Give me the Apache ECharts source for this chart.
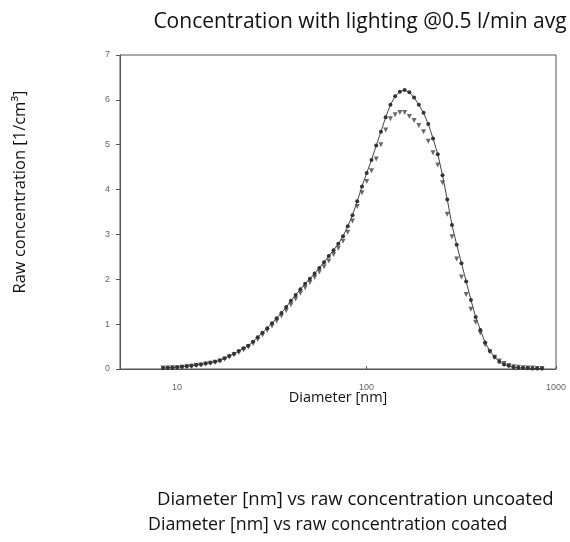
<!DOCTYPE html>
<html>
<head>
<meta charset="utf-8">
<script src="https://cdn.jsdelivr.net/npm/echarts@6/dist/echarts.min.js"></script>
<style>
  html, body { margin: 0; padding: 0; background: #fff; }
  #main { width: 570px; height: 542px; }
</style>
</head>
<body>
<div id="main"></div>
<script>
// diameters [nm], log spaced channels
var diameters = [
  8.43, 8.93, 9.46, 10.02, 10.62, 11.25, 11.91, 12.62, 13.37, 14.16,
  15.00, 15.89, 16.83, 17.82, 18.88, 20.00, 21.18, 22.44, 23.77, 25.18,
  26.67, 28.25, 29.92, 31.70, 33.57, 35.56, 37.67, 39.90, 42.27, 44.77,
  47.42, 50.23, 53.21, 56.36, 59.70, 63.24, 66.99, 70.96, 75.16, 79.62,
  84.33, 89.33, 94.62, 100.2, 106.2, 112.5, 119.1, 126.2, 133.7, 141.6,
  150.0, 158.9, 168.3, 178.2, 188.8, 200.0, 211.8, 224.4, 237.7, 251.8,
  266.7, 282.5, 299.2, 317.0, 335.7, 355.6, 376.7, 399.0, 422.7, 447.7,
  474.2, 502.3, 532.1, 563.6, 597.0, 632.4, 669.9, 709.6, 751.6, 796.2,
  843.3
];

var uncoated = [
  0.02, 0.03, 0.03, 0.04, 0.05, 0.06, 0.07, 0.09, 0.10, 0.12,
  0.14, 0.16, 0.19, 0.24, 0.29, 0.34, 0.40, 0.46, 0.52, 0.61,
  0.71, 0.81, 0.91, 1.02, 1.13, 1.25, 1.38, 1.52, 1.65, 1.78,
  1.90, 2.01, 2.13, 2.25, 2.38, 2.52, 2.65, 2.79, 2.96, 3.18,
  3.43, 3.74, 4.07, 4.37, 4.66, 4.98, 5.29, 5.61, 5.89, 6.08,
  6.18, 6.22, 6.17, 6.05, 5.89, 5.71, 5.46, 5.14, 4.79, 4.32,
  3.78, 3.21, 2.77, 2.36, 1.95, 1.54, 1.16, 0.87, 0.59, 0.40,
  0.27, 0.16, 0.10, 0.07, 0.04, 0.03, 0.02, 0.02, 0.01, 0.01,
  0.01
];

var coated = [
  0.02, 0.02, 0.03, 0.03, 0.04, 0.05, 0.06, 0.08, 0.09, 0.11,
  0.13, 0.15, 0.18, 0.22, 0.27, 0.32, 0.37, 0.43, 0.49, 0.57,
  0.66, 0.76, 0.86, 0.96, 1.07, 1.18, 1.30, 1.43, 1.56, 1.69,
  1.81, 1.93, 2.04, 2.16, 2.28, 2.41, 2.55, 2.69, 2.85, 3.05,
  3.30, 3.62, 3.93, 4.18, 4.42, 4.68, 5.00, 5.33, 5.58, 5.67,
  5.72, 5.72, 5.63, 5.54, 5.43, 5.29, 5.08, 4.82, 4.55, 4.15,
  3.45, 2.95, 2.45, 2.05, 1.66, 1.33, 1.04, 0.80, 0.54, 0.38,
  0.26, 0.18, 0.12, 0.08, 0.05, 0.04, 0.03, 0.02, 0.02, 0.01,
  0.01
];

var seriesNames = [
  "Diameter [nm] vs raw concentration uncoated",
  "Diameter [nm] vs raw concentration coated"
];

function pairs(values) {
  return diameters.map(function (d, i) { return [d, values[i]]; });
}

var chart = echarts.init(document.getElementById("main"));

var option = {
  animation: false,
  textStyle: { fontFamily: "'Open Sans', sans-serif" },
  title: {
    text: "Concentration with lighting @0.5 l/min avg",
    left: 355,
    top: 7,
    textAlign: "center",
    textStyle: { fontSize: 21, fontWeight: "normal", color: "#111", fontFamily: "Open Sans" }
  },
  legend: [
    {
      data: [seriesNames[0]],
      left: 147,
      top: 485,
      icon: "none",
      itemWidth: 0,
      itemGap: 0,
      textStyle: { fontSize: 18.5, color: "#111", fontFamily: "Open Sans" }
    },
    {
      data: [seriesNames[1]],
      left: 138,
      top: 511,
      icon: "none",
      itemWidth: 0,
      itemGap: 0,
      textStyle: { fontSize: 17.8, color: "#111", fontFamily: "Open Sans" }
    }
  ],
  grid: {
    left: 120,
    right: 14,
    top: 55,
    bottom: 173,
    show: true,
    borderColor: "#555",
    borderWidth: 1
  },
  xAxis: {
    type: "log",
    logBase: 10,
    min: 5,
    max: 1000,
    name: "Diameter [nm]",
    nameLocation: "middle",
    nameGap: 21,
    nameMoveOverlap: false,
    nameTextStyle: { fontSize: 14.5, color: "#111", fontFamily: "Open Sans" },
    axisLine: { show: true, lineStyle: { color: "#555", width: 1 } },
    axisTick: { show: true, inside: true, length: 3, lineStyle: { color: "#555" } },
    splitLine: { show: false },
    axisLabel: {
      fontSize: 9,
      color: "#666",
      margin: 14,
      fontFamily: "Liberation Sans",
      formatter: function (v) {
        var e = Math.log10(v);
        return Math.abs(e - Math.round(e)) < 1e-6 ? String(Math.round(v)) : "";
      }
    }
  },
  yAxis: {
    type: "value",
    min: 0,
    max: 7,
    interval: 1,
    name: "Raw concentration [1/cm³]",
    nameLocation: "middle",
    nameRotate: 90,
    nameGap: 91,
    nameTextStyle: { fontSize: 16.5, color: "#111", fontFamily: "Open Sans", padding: [0, 0, 0, 40] },
    axisLine: { show: true, lineStyle: { color: "#555", width: 1 } },
    axisTick: { show: true, length: 4, lineStyle: { color: "#555" } },
    splitLine: { show: false },
    axisLabel: { fontSize: 9, color: "#666", margin: 10, fontFamily: "Liberation Sans" }
  },
  series: [
    {
      name: seriesNames[0],
      type: "line",
      data: pairs(uncoated),
      symbol: "circle",
      symbolSize: 4,
      showAllSymbol: true,
      itemStyle: { color: "#333" },
      lineStyle: { color: "#444", width: 1 }
    },
    {
      name: seriesNames[1],
      type: "scatter",
      data: pairs(coated),
      symbol: "triangle",
      symbolRotate: 180,
      symbolSize: 5,
      itemStyle: { color: "#444" }
    }
  ]
};

chart.setOption(option);
</script>
</body>
</html>
